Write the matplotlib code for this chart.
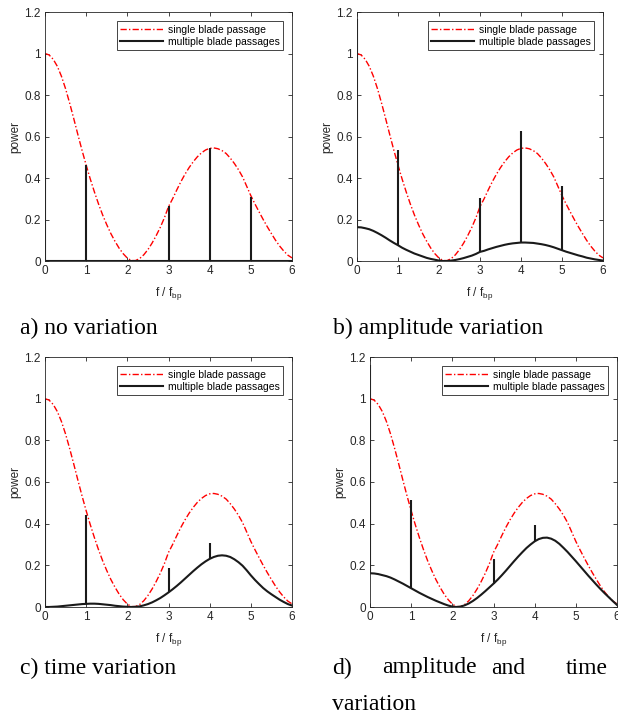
import numpy as np
import matplotlib
matplotlib.use("Agg")
import matplotlib.pyplot as plt

plt.rcParams['font.family'] = ['Liberation Sans', 'DejaVu Sans']
plt.rcParams['mathtext.fontset'] = 'custom'
plt.rcParams['mathtext.rm'] = 'Liberation Sans'
plt.rcParams['mathtext.it'] = 'Liberation Sans'

# frequency grid f / f_bp, 0 .. 6 in steps of 0.1
freq = [round(0.1 * i, 1) for i in range(61)]

# single blade passage spectrum (same in all panels)
single = [1.000, 0.993, 0.972, 0.938, 0.890, 0.830, 0.760, 0.685, 0.608, 0.533,
          0.462, 0.395, 0.333, 0.275, 0.222, 0.175, 0.132, 0.095, 0.062, 0.035,
          0.014, 0.002, 0.002, 0.012, 0.030, 0.055, 0.086, 0.122, 0.162, 0.208,
          0.262, 0.300, 0.342, 0.382, 0.418, 0.450, 0.478, 0.502, 0.521, 0.535,
          0.543, 0.545, 0.541, 0.532, 0.518, 0.496, 0.470, 0.440, 0.405, 0.360,
          0.315, 0.275, 0.237, 0.200, 0.165, 0.132, 0.100, 0.072, 0.048, 0.028,
          0.015]

# continuous part of the multiple blade passage spectrum
multi_a = [0.0] * 61
multi_b = [0.163, 0.162, 0.158, 0.153, 0.145, 0.135, 0.124, 0.112, 0.099, 0.087,
           0.076, 0.064, 0.054, 0.045, 0.036, 0.029, 0.022, 0.015, 0.010, 0.006,
           0.002, 0.000, 0.000, 0.002, 0.005, 0.009, 0.014, 0.020, 0.026, 0.034,
           0.044, 0.049, 0.056, 0.062, 0.068, 0.073, 0.078, 0.082, 0.085, 0.087,
           0.089, 0.089, 0.088, 0.087, 0.084, 0.081, 0.077, 0.072, 0.066, 0.059,
           0.052, 0.045, 0.039, 0.033, 0.027, 0.022, 0.016, 0.012, 0.008, 0.005,
           0.002]
multi_c = [0.000, 0.000, 0.001, 0.002, 0.004, 0.006, 0.008, 0.010, 0.012, 0.014,
           0.015, 0.016, 0.016, 0.015, 0.013, 0.011, 0.009, 0.006, 0.004, 0.002,
           0.001, 0.000, 0.001, 0.003, 0.008, 0.014, 0.022, 0.032, 0.043, 0.056,
           0.070, 0.085, 0.101, 0.118, 0.136, 0.154, 0.172, 0.189, 0.205, 0.219,
           0.231, 0.240, 0.246, 0.248, 0.246, 0.240, 0.229, 0.215, 0.198, 0.176,
           0.152, 0.130, 0.110, 0.091, 0.075, 0.061, 0.048, 0.035, 0.024, 0.014,
           0.007]
multi_d = [0.162, 0.161, 0.158, 0.153, 0.148, 0.141, 0.132, 0.122, 0.112, 0.101,
           0.090, 0.079, 0.068, 0.058, 0.048, 0.039, 0.030, 0.022, 0.014, 0.007,
           0.002, 0.000, 0.002, 0.008, 0.017, 0.029, 0.043, 0.059, 0.076, 0.094,
           0.112, 0.131, 0.152, 0.174, 0.197, 0.220, 0.242, 0.263, 0.283, 0.300,
           0.315, 0.326, 0.332, 0.333, 0.328, 0.318, 0.303, 0.284, 0.264, 0.242,
           0.220, 0.197, 0.174, 0.151, 0.129, 0.107, 0.086, 0.066, 0.047, 0.028,
           0.010]

# discrete lines (harmonics): position, bottom, top
stems_a_x = [0, 1, 3, 4, 5]
stems_a_lo = [0, 0, 0, 0, 0]
stems_a_hi = [1.0, 0.463, 0.265, 0.543, 0.31]

stems_b_x = [0, 1, 3, 4, 5]
stems_b_lo = [0.163, 0.076, 0.044, 0.089, 0.052]
stems_b_hi = [1.165, 0.535, 0.305, 0.625, 0.362]

stems_c_x = [0, 1, 3, 4]
stems_c_lo = [0, 0.015, 0.07, 0.231]
stems_c_hi = [1.0, 0.444, 0.186, 0.305]

stems_d_x = [0, 1, 3, 4]
stems_d_lo = [0.162, 0.09, 0.112, 0.315]
stems_d_hi = [1.162, 0.515, 0.232, 0.395]

captions = ["a) no variation", "b) amplitude variation", "c) time variation"]

W, H = 618, 718
fig = plt.figure(figsize=(W / 100, H / 100), dpi=100)

gray = '#262626'


def panel(rect, multi, sx, slo, shi):
    l, t, r, b = rect
    ax = fig.add_axes([l / W, 1 - b / H, (r - l) / W, (b - t) / H])
    ax.plot(freq, single, color='red', lw=1.0, dashes=[4.5, 1.6, 1, 1.6],
            label='single blade passage')
    ax.plot(freq, multi, color='#1a1a1a', lw=1.5,
            label='multiple blade passages')
    ax.vlines(sx, slo, shi, color='#1a1a1a', lw=1.5)
    ax.set_xlim(0, 6)
    ax.set_ylim(0, 1.2)
    ax.set_xticks(range(7))
    ax.set_yticks(np.arange(0, 1.21, 0.2))
    ax.set_yticklabels(['0', '0.2', '0.4', '0.6', '0.8', '1', '1.2'])
    ax.tick_params(direction='in', length=3, width=0.6, top=True, right=True,
                   labelsize=8.5, colors=gray, pad=3)
    for s in ax.spines.values():
        s.set_color(gray)
        s.set_linewidth(0.6)
    ax.set_ylabel('power', fontsize=8.5, color=gray, labelpad=2)
    ax.set_xlabel('f / f$_{\\rm bp}$', fontsize=8.5, color=gray, labelpad=5.5)
    leg = ax.legend(loc='upper right', fontsize=7.5, handlelength=4.2,
                    fancybox=False, framealpha=1, edgecolor=gray,
                    borderaxespad=0.9, borderpad=0.3, labelspacing=0.25,
                    handletextpad=0.4)
    leg.get_frame().set_linewidth(0.6)
    return ax


panel((45, 12, 292, 261), multi_a, stems_a_x, stems_a_lo, stems_a_hi)
panel((357, 12, 603, 261), multi_b, stems_b_x, stems_b_lo, stems_b_hi)
panel((45, 357, 292, 607), multi_c, stems_c_x, stems_c_lo, stems_c_hi)
panel((370, 357, 617, 607), multi_d, stems_d_x, stems_d_lo, stems_d_hi)

cap = dict(family=['Liberation Serif', 'DejaVu Serif'], fontsize=17,
           va='center', color='black')
fig.text(20 / W, 1 - 328 / H, captions[0], ha='left', **cap)
fig.text(333 / W, 1 - 328 / H, captions[1], ha='left', **cap)
fig.text(20 / W, 1 - 668 / H, captions[2], ha='left', **cap)
# justified caption d)
fig.text(332 / W, 1 - 668 / H, "d)", ha='left', **cap)
fig.text(382 / W, 1 - 668 / H, "amplitude", ha='left', **cap)
fig.text(508 / W, 1 - 668 / H, "and", ha='center', **cap)
fig.text(608 / W, 1 - 668 / H, "time", ha='right', **cap)
fig.text(332 / W, 1 - 704 / H, "variation", ha='left', **cap)

fig.savefig('out.png', dpi=100)
